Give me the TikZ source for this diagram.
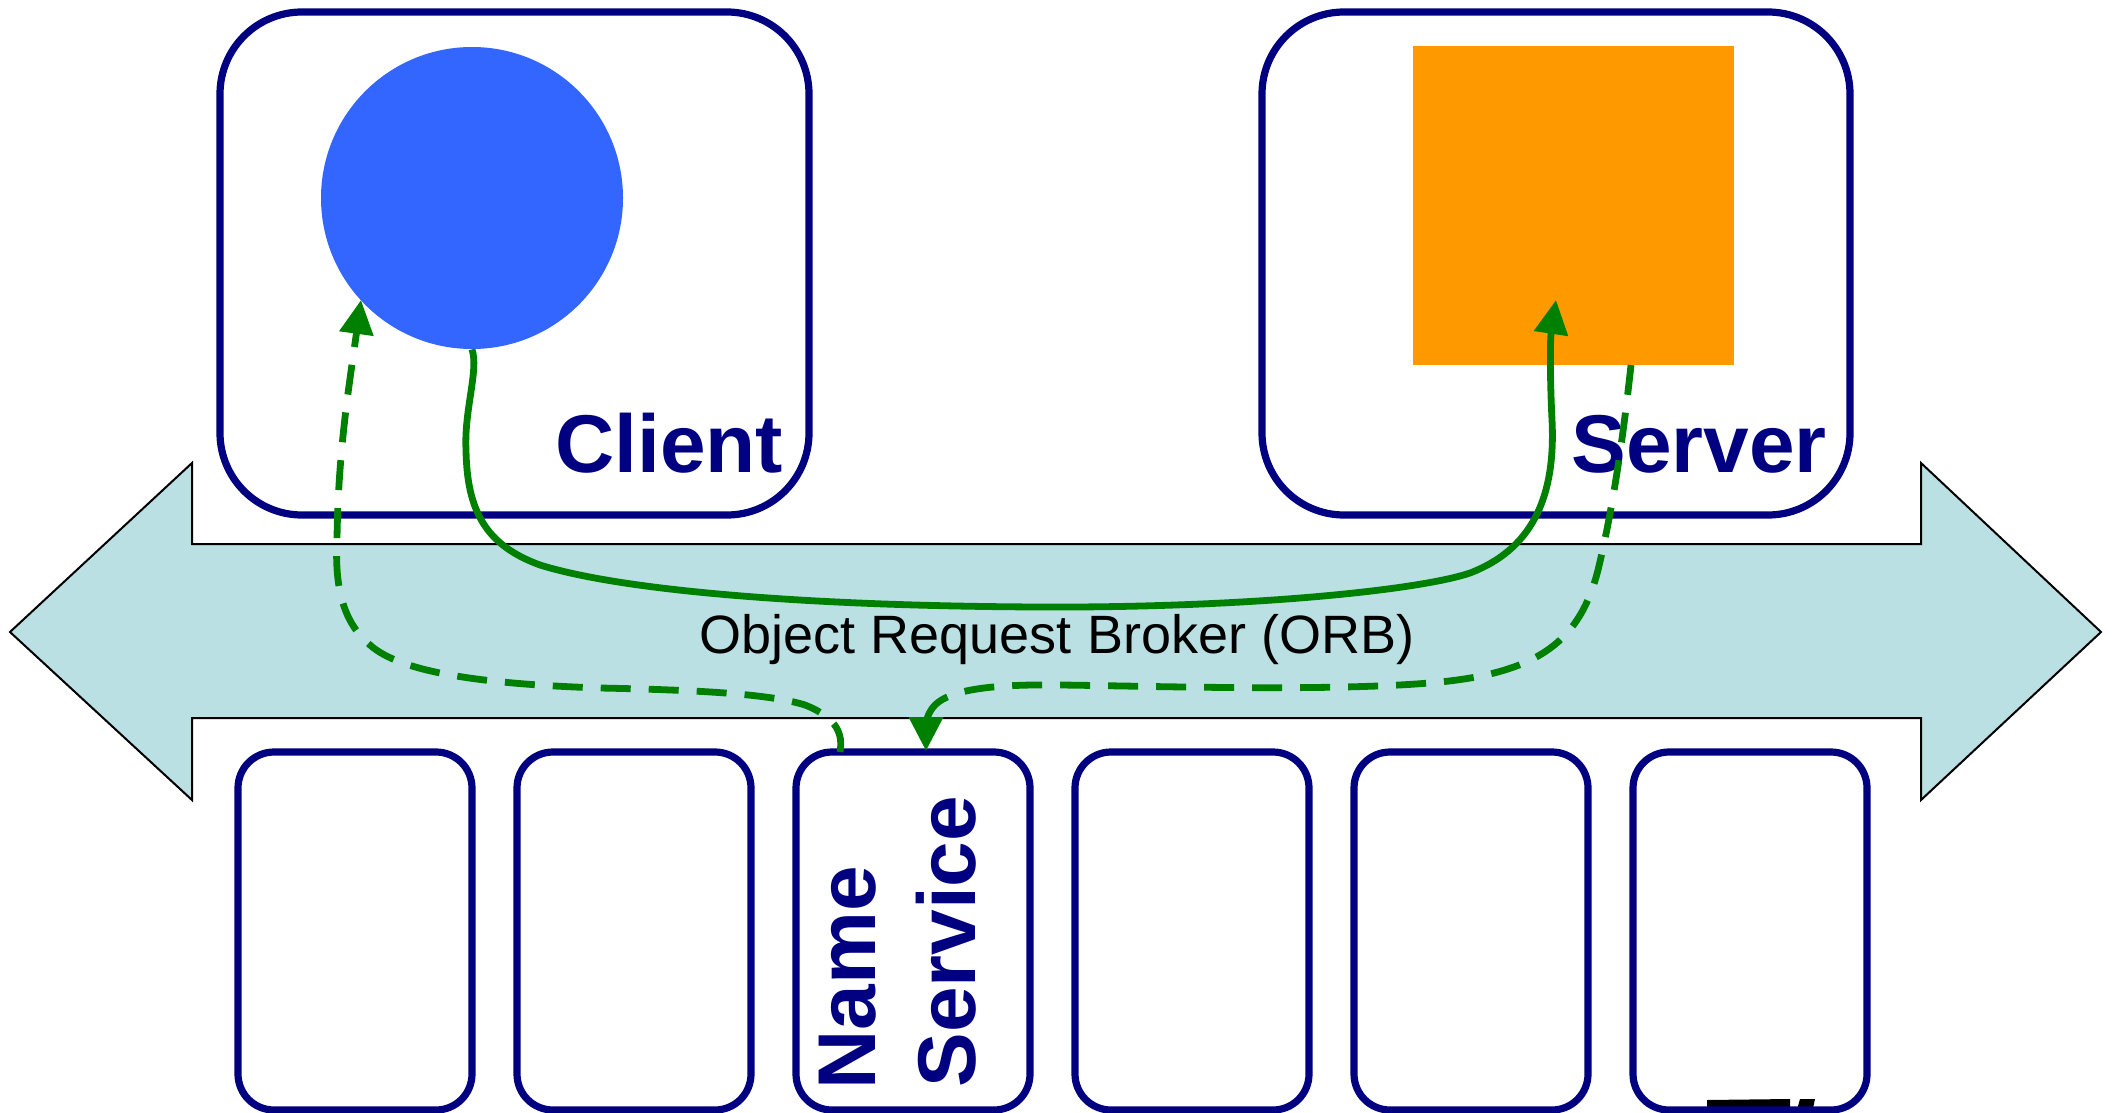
\documentclass[tikz,border=0pt]{standalone}
\usepackage{fontspec}
\setmainfont{Liberation Sans}
\usetikzlibrary{arrows.meta}
\definecolor{navyline}{HTML}{000080}
\definecolor{clientblue}{HTML}{3366FF}
\definecolor{serverorange}{HTML}{FF9900}
\definecolor{orbfill}{HTML}{BBE0E3}
\definecolor{flowgreen}{HTML}{008000}

\begin{document}
\begin{tikzpicture}[x=0.5pt,y=-0.5pt,
  hostbox/.style={draw=navyline, line width=3.6pt, rounded corners=41pt, rectangle,
    minimum width=294.5pt, minimum height=251.5pt, inner sep=0pt},
  servicebox/.style={draw=navyline, fill=white, line width=3.6pt, rounded corners=18pt, rectangle,
    minimum width=117pt, minimum height=179pt, inner sep=0pt},
  biglabel/.style={text=navyline, font=\fontsize{41}{49}\selectfont\bfseries,
    inner sep=0pt, anchor=base west},
  flow/.style={draw=flowgreen, line width=3.4pt, -{Triangle[length=17pt,width=16.5pt]}},
  dashedflow/.style={flow, dash pattern=on 15pt off 9pt},
]
\useasboundingbox (0,0) rectangle (2114,1113);

% the broker: a double-headed block arrow
\draw[fill=orbfill, draw=black, line width=1pt]
  (10,632) -- (192,463) -- (192,544) -- (1921,544) -- (1921,463) -- (2101,632)
  -- (1921,800) -- (1921,718) -- (192,718) -- (192,800) -- cycle;
\node[inner sep=0pt, anchor=base, font=\fontsize{27}{32}\selectfont] (orb) at (1057,653)
  {Object Request Broker (ORB)};

% client and server hosts
\node[hostbox] (client) at (514.5,263.5) {};
\node[hostbox, minimum width=294pt] (server) at (1556,263.5) {};
\node[circle, fill=clientblue, minimum size=151pt, inner sep=0pt] (obj) at (472,198) {};
\node[rectangle, fill=serverorange, minimum width=160.5pt, minimum height=159.5pt, inner sep=0pt]
  (servant) at (1573.5,205.5) {};
\node[biglabel] (clientlabel) at (555,472) {Client};
\node[biglabel] (serverlabel) at (1571,472) {Server};

% partly hidden mark at the lower edge
\fill[black] (1707,1100) -- (1790,1099) -- (1790,1113) -- (1707,1113) -- cycle;
\fill[black] (1800,1099) -- (1815,1099) -- (1812,1113) -- (1796,1113) -- cycle;

% row of ORB services
\node[servicebox] (svc1) at (355,931) {};
\node[servicebox] (svc2) at (634,931) {};
\node[servicebox] (ns)   at (913,931) {};
\node[servicebox] (svc4) at (1192,931) {};
\node[servicebox] (svc5) at (1471,931) {};
\node[servicebox, fill=none] (svc6) at (1750,931) {};
\node[biglabel, rotate=90] (nsname) at (875,1090) {Name};
\node[biglabel, rotate=90] (nsservice) at (975,1088) {Service};

% connector end points
\coordinate (client-in) at (361,300);
\coordinate (server-in) at (1556,300);
\coordinate (server-out) at (1631,365);
\coordinate (ns-out) at (840,752);
\coordinate (ns-in) at (926,751);

% request from client object to servant through the ORB
\draw[flow] (obj.south) .. controls (479,370) and (464,410) .. (466,450)
  .. controls (467,510) and (485,545) .. (540,565)
  .. controls (620,590) and (800,606) .. (1040,607)
  .. controls (1250,608) and (1420,590) .. (1470,573)
  .. controls (1530,550) and (1556,500) .. (1552,420)
  .. controls (1550,380) and (1550,340) .. (server-in);

% name service lookup answered to the client
\draw[dashedflow] (ns-out) .. controls (843,735) and (838,718) .. (805,705)
  .. controls (770,694) and (700,690) .. (600,688)
  .. controls (480,684) and (400,672) .. (370,645)
  .. controls (340,620) and (335,580) .. (337,540)
  .. controls (338,450) and (350,380) .. (client-in);

% servant registers with the name service
\draw[dashedflow] (server-out) .. controls (1625,420) and (1615,500) .. (1598,570)
  .. controls (1580,640) and (1540,672) .. (1440,682)
  .. controls (1340,692) and (1150,686) .. (1060,685)
  .. controls (990,684) and (950,690) .. (935,705)
  .. controls (927,713) and (926,725) .. (ns-in);
\end{tikzpicture}
\end{document}
